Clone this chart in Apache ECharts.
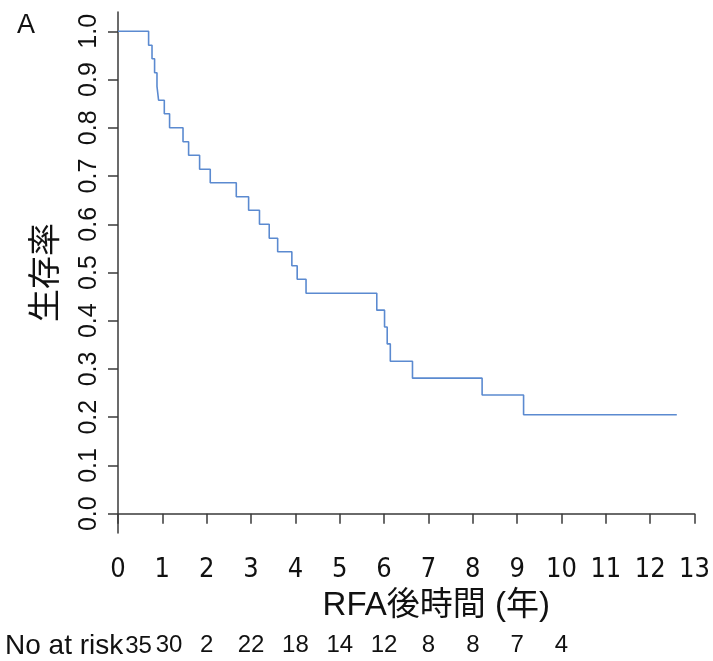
<!DOCTYPE html>
<html><head><meta charset="utf-8">
<script src="https://cdn.jsdelivr.net/npm/echarts@6/dist/echarts.min.js"></script>
<style>html,body{margin:0;padding:0;background:#fff}#c{width:713px;height:661px}</style>
</head><body><div id="c"></div>
<script>
// Kaplan-Meier step points (time in years, survival)
const times = [0, 0.69, 0.767, 0.825, 0.879, 0.915, 1.044, 1.163, 1.466, 1.592, 1.84, 2.08, 2.667, 2.945, 3.19, 3.41, 3.60, 3.92, 4.04, 4.24, 5.835, 6.01, 6.07, 6.14, 6.64, 8.21, 9.145, 12.60];
const survival = [1.0, 0.971, 0.943, 0.914, 0.886, 0.857, 0.829, 0.800, 0.771, 0.743, 0.714, 0.686, 0.657, 0.629, 0.600, 0.571, 0.543, 0.514, 0.486, 0.457, 0.422, 0.387, 0.352, 0.316, 0.281, 0.246, 0.205, 0.205];
const yTicks = [0, 0.1, 0.2, 0.3, 0.4, 0.5, 0.6, 0.7, 0.8, 0.9, 1.0];
const xTicks = [0,1,2,3,4,5,6,7,8,9,10,11,12,13];
const riskYears = [0,1,2,3,4,5,6,7,8,9,10];
const riskCounts = [35, 30, 2, 22, 18, 14, 12, 8, 8, 7, 4];

const narrow = '"Liberation Sans Narrow", "Arial Narrow", "DejaVu Sans Condensed", "Liberation Sans", sans-serif';
const sans = '"Liberation Sans", Arial, "Noto Sans CJK JP", sans-serif';
const axisColor = '#3a3a3a';

const chart = echarts.init(document.getElementById('c'), null, {renderer: 'canvas'});
chart.setOption({
  animation: false,
  backgroundColor: '#ffffff',
  grid: {left: 118, right: 18, top: 12, bottom: 128, containLabel: false},
  xAxis: [{
    type: 'value', min: 0, max: 13, interval: 1,
    axisLine: {show: true, lineStyle: {color: axisColor, width: 1.5}},
    axisTick: {show: true, inside: false, length: 10, lineStyle: {color: axisColor, width: 1.5}, customValues: xTicks},
    axisLabel: {show: true, margin: 23, fontFamily: narrow, fontSize: 27, color: '#111', customValues: xTicks},
    splitLine: {show: false},
    name: 'RFA後時間 (年)', nameLocation: 'middle', nameGap: 56,
    nameTextStyle: {fontFamily: sans, fontSize: 33, color: '#111', padding: [0, 0, 0, 60]}
  }, {
    type: 'value', min: 0, max: 13, position: 'bottom', offset: 94,
    axisLine: {show: false}, axisTick: {show: false}, splitLine: {show: false},
    axisLabel: {
      show: true, margin: 6, fontFamily: sans, fontSize: 24, color: '#111', hideOverlap: false,
      customValues: riskYears.slice(1),
      formatter: function (v) {
        const i = riskYears.indexOf(Math.round(v));
        if (i < 1) return '';
        return i === 1 ? '  ' + riskCounts[i] : String(riskCounts[i]);
      }
    }
  }],
  yAxis: {
    type: 'value', min: -0.04, max: 1.04,
    axisLine: {show: true, lineStyle: {color: axisColor, width: 1.5}},
    axisTick: {show: true, inside: false, length: 10, lineStyle: {color: axisColor, width: 1.5}, customValues: yTicks},
    axisLabel: {show: true, rotate: 90, margin: 16, fontFamily: sans, fontSize: 25, color: '#111',
      customValues: yTicks, formatter: function (v) { return v.toFixed(1); }},
    splitLine: {show: false},
    name: '生存率', nameLocation: 'middle', nameGap: 58,
    nameTextStyle: {fontFamily: '"Noto Sans CJK JP", sans-serif', fontSize: 33, color: '#111'}
  },
  graphic: [
    {type: 'text', left: 17, top: 12, style: {text: 'A', fontFamily: sans, fontSize: 27, fill: '#111'}},
    {type: 'text', left: 5, top: 632, style: {
      text: '{a|No at risk}{b|' + riskCounts[0] + '}',
      rich: {
        a: {fontFamily: sans, fontSize: 28, fill: '#111', color: '#111'},
        b: {fontFamily: sans, fontSize: 24, fill: '#111', color: '#111', padding: [0, 0, 0, 2]}
      }
    }}
  ],
  series: [{
    type: 'line', step: 'end', showSymbol: false, symbol: 'none',
    data: times.map((t, i) => [t, survival[i]]),
    lineStyle: {color: '#5b8ad0', width: 1.6},
    xAxisIndex: 0, yAxisIndex: 0
  }]
});
</script></body></html>
